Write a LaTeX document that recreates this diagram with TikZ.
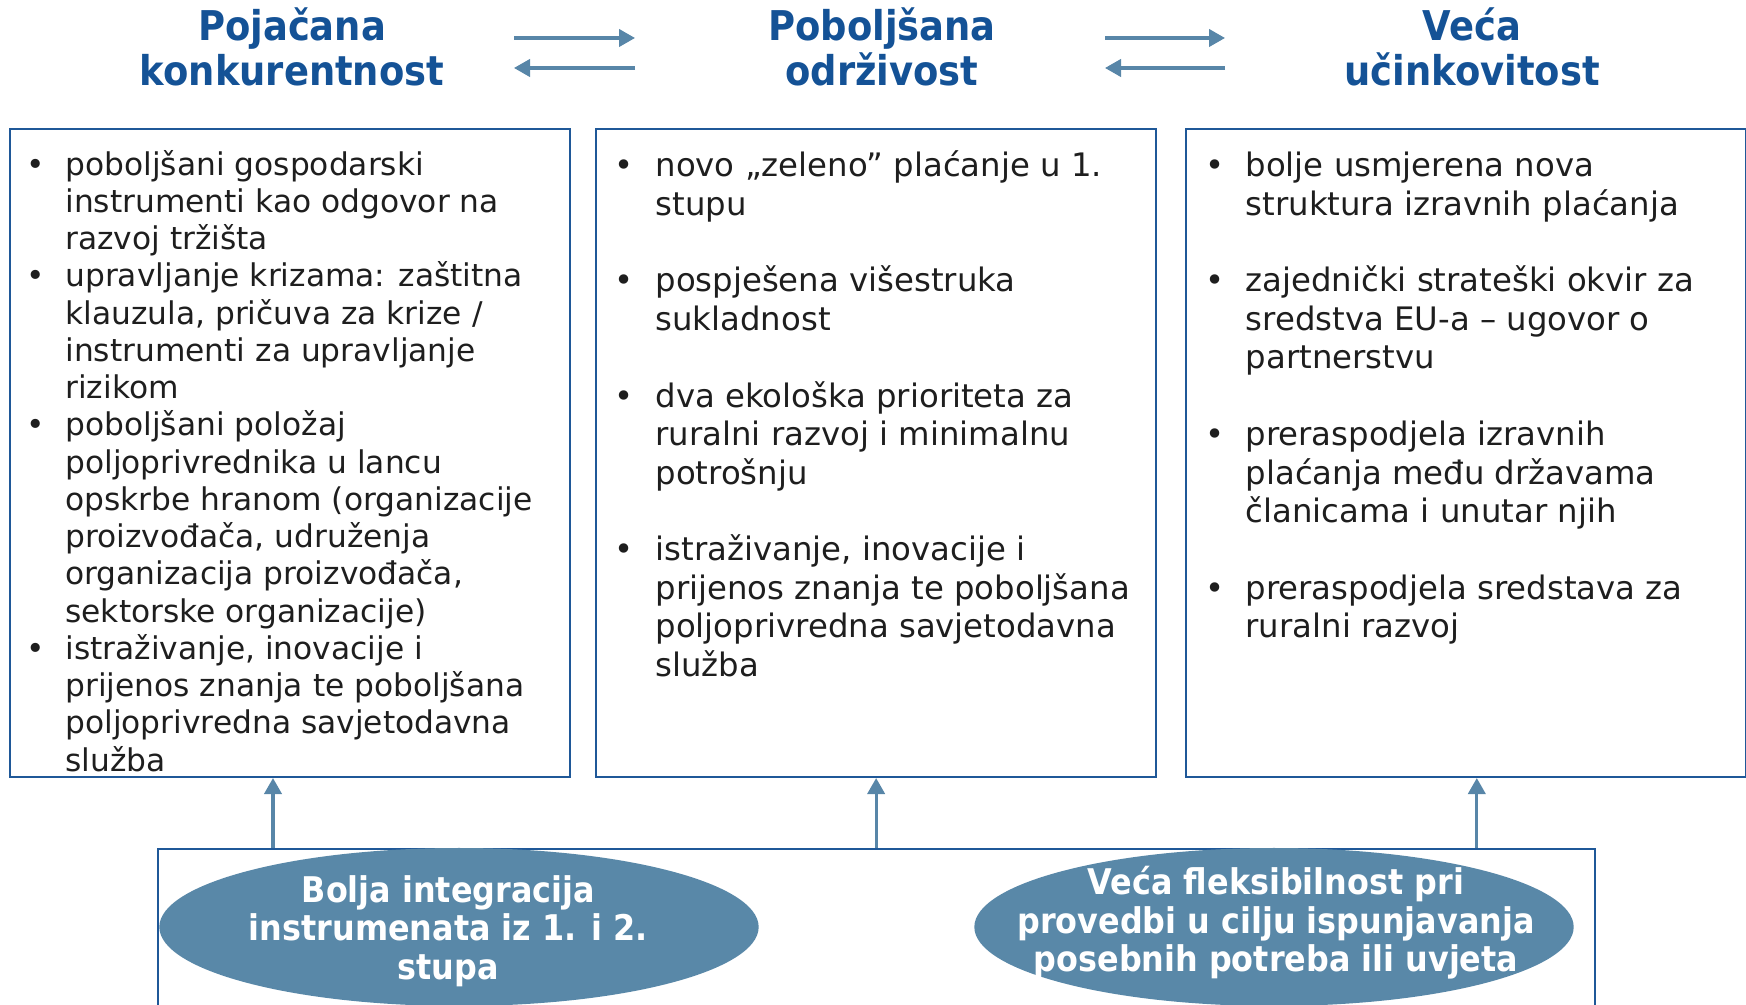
\documentclass[tikz,border=0pt]{standalone}
\usepackage{fontspec}
\setmainfont{DejaVu Sans}
\newfontfamily\headfont[FakeStretch=0.9]{DejaVu Sans}
\usepackage{tikz}
\usetikzlibrary{shapes.geometric, arrows.meta, positioning}
\definecolor{headblue}{RGB}{20,82,150}
\definecolor{frameblue}{RGB}{31,88,152}
\definecolor{arrowblue}{RGB}{88,134,168}
\definecolor{ovalblue}{RGB}{89,136,168}
\definecolor{bodytext}{RGB}{30,30,30}
\tikzset{
	panel/.style={rectangle, draw=frameblue, line width=0.9pt, minimum width=8.4cm, minimum height=9.72cm, inner sep=0pt},
	head/.style={text=headblue, font=\headfont\bfseries\fontsize{17.5}{19.5}\selectfont, align=center},
	bullets/.style={anchor=north west, inner sep=0pt, text=bodytext},
	oval/.style={ellipse, fill=ovalblue, minimum width=8.99cm, minimum height=2.37cm, inner sep=0pt},
	ovaltext/.style={text=white, font=\headfont\bfseries\fontsize{15.1}{16.4}\selectfont, align=center},
	link/.style={draw=arrowblue, line width=1.3pt, -{Triangle[length=2.4mm, width=2.6mm]}}
}

\begin{document}
\begin{tikzpicture}[x=0.015cm, y=-0.015cm]
	\useasboundingbox (0,0) rectangle (1746,1005);
	\clip (0,0) rectangle (1746,1005);
	
	% Headings
	\node[head] (t1) at (292,47) {Pojačana\\konkurentnost};
	\node[head] (t2) at (882,47) {Poboljšana\\održivost};
	\node[head] (t3) at (1472,47) {Veća\\učinkovitost};
	
	% Arrows between the headings
	\coordinate (l12) at (514,38);
	\coordinate (r12) at (635,38);
	\coordinate (l23) at (1105,38);
	\coordinate (r23) at (1225,38);
	\draw[link] (l12) -- (r12);
	\draw[link] ([yshift=-0.45cm]r12) -- ([yshift=-0.45cm]l12);
	\draw[link] (l23) -- (r23);
	\draw[link] ([yshift=-0.45cm]r23) -- ([yshift=-0.45cm]l23);
	
	% Three boxes
	\node[panel] (box1) at (290,453) {};
	\node[panel, right=0.36cm of box1] (box2) {};
	\node[panel, right=0.42cm of box2] (box3) {};
	
	% Box contents
	\node[bullets] (list1) at ([shift={(0.26cm,-0.31cm)}]box1.north west) {\fontsize{13.35}{15.9}\selectfont
		\begin{tabular}{@{}p{0.58cm}@{}l@{}}
			\textbullet & poboljšani gospodarski\\
			& instrumenti kao odgovor na\\
			& razvoj tržišta\\
			\textbullet & upravljanje krizama: zaštitna\\
			& klauzula, pričuva za krize /\\
			& instrumenti za upravljanje\\
			& rizikom\\
			\textbullet & poboljšani položaj\\
			& poljoprivrednika u lancu\\
			& opskrbe hranom (organizacije\\
			& proizvođača, udruženja\\
			& organizacija proizvođača,\\
			& sektorske organizacije)\\
			\textbullet & istraživanje, inovacije i\\
			& prijenos znanja te poboljšana\\
			& poljoprivredna savjetodavna\\
			& služba
		\end{tabular}};
	\node[bullets] (list2) at ([shift={(0.29cm,-0.32cm)}]box2.north west) {\fontsize{13.8}{16.4}\selectfont
		\begin{tabular}{@{}p{0.61cm}@{}l@{}}
			\textbullet & novo „zeleno” plaćanje u 1.\\
			& stupu\\
			&\\
			\textbullet & pospješena višestruka\\
			& sukladnost\\
			&\\
			\textbullet & dva ekološka prioriteta za\\
			& ruralni razvoj i minimalnu\\
			& potrošnju\\
			&\\
			\textbullet & istraživanje, inovacije i\\
			& prijenos znanja te poboljšana\\
			& poljoprivredna savjetodavna\\
			& služba
		\end{tabular}};
	\node[bullets] (list3) at ([shift={(0.29cm,-0.32cm)}]box3.north west) {\fontsize{13.8}{16.4}\selectfont
		\begin{tabular}{@{}p{0.61cm}@{}l@{}}
			\textbullet & bolje usmjerena nova\\
			& struktura izravnih plaćanja\\
			&\\
			\textbullet & zajednički strateški okvir za\\
			& sredstva EU-a – ugovor o\\
			& partnerstvu\\
			&\\
			\textbullet & preraspodjela izravnih\\
			& plaćanja među državama\\
			& članicama i unutar njih\\
			&\\
			\textbullet & preraspodjela sredstava za\\
			& ruralni razvoj
		\end{tabular}};
	
	% Bottom frame with the two ovals
	\node[rectangle, draw=frameblue, line width=0.9pt, minimum width=21.555cm, minimum height=3cm, inner sep=0pt, anchor=north] (base) at (876.5,848) {};
	\node[oval] (e1) at (459,927) {};
	\node[oval] (e2) at (1274,927) {};
	\node[ovaltext] at ([shift={(-0.16cm,-0.06cm)}]e1) {Bolja integracija\\instrumenata iz 1. i 2.\\stupa};
	\node[ovaltext] at ([shift={(0.03cm,0.06cm)}]e2) {Veća fleksibilnost pri\\provedbi u cilju ispunjavanja\\posebnih potreba ili uvjeta};
	
	% Arrows from the bottom frame up to the boxes
	\coordinate (u1) at ([xshift=-0.255cm]box1.south);
	\coordinate (u2) at (box2.south);
	\coordinate (u3) at ([xshift=0.158cm]box3.south);
	\foreach \u in {u1,u2,u3}
		\draw[link] (\u |- base.north) -- (\u);
\end{tikzpicture}
\end{document}
